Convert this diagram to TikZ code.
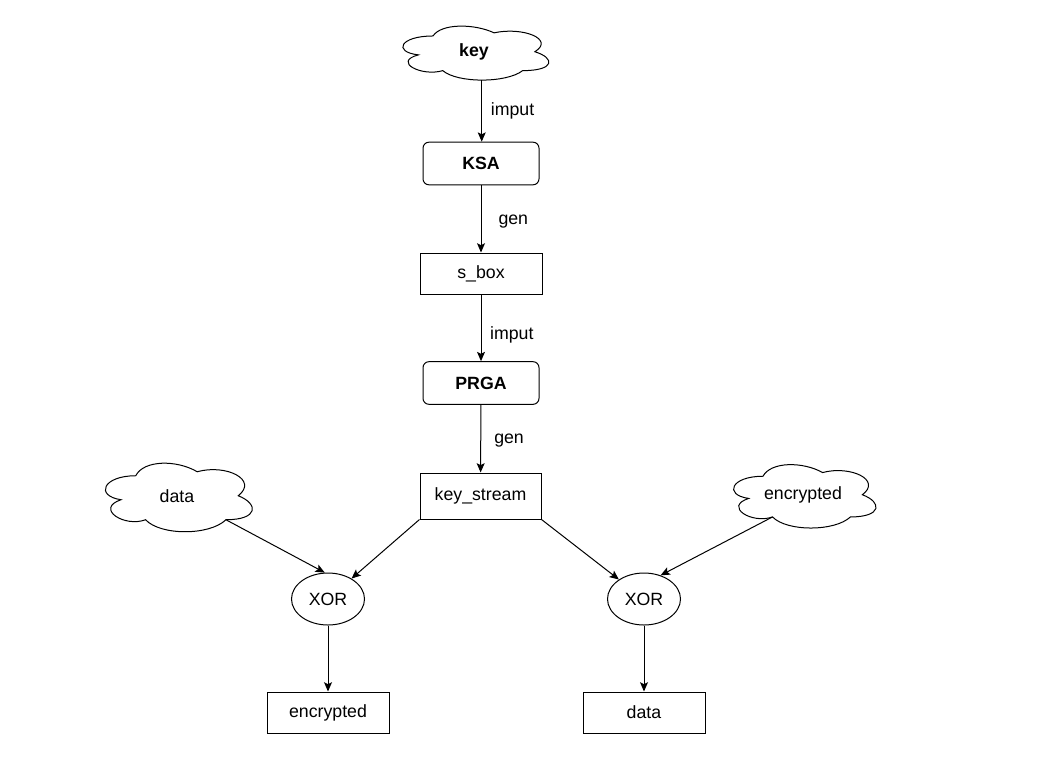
\documentclass[tikz,border=0pt]{standalone}
\usepackage{fontspec}
\setmainfont{Liberation Sans}
\usetikzlibrary{shapes.geometric,arrows.meta,calc}
\newcommand\drawiocloud[3]{%
  \begin{scope}[shift={(#1.north west)}, x=#2, y=-#3]
    \draw[line width=0.75pt] (0.25,0.25) .. controls (0.05,0.25) and (0,0.5) .. (0.16,0.55)
      .. controls (0,0.66) and (0.18,0.9) .. (0.31,0.8)
      .. controls (0.4,1) and (0.7,1) .. (0.8,0.8)
      .. controls (1,0.8) and (1,0.6) .. (0.875,0.5)
      .. controls (1,0.3) and (0.8,0.1) .. (0.625,0.2)
      .. controls (0.5,0.05) and (0.3,0.05) .. (0.25,0.25) -- cycle;
  \end{scope}}
\begin{document}
\begin{tikzpicture}[x=0.75pt,y=-0.75pt,
  every node/.style={font=\fontsize{13.3}{16}\selectfont},
  cloudnode/.style={draw=none, inner sep=0pt},
  rbox/.style={draw, line width=0.75pt, rounded corners=4.5pt, minimum width=87pt, minimum height=32pt, inner sep=0pt},
  sbox/.style={draw, line width=0.75pt, minimum width=91.5pt, minimum height=30.75pt, inner sep=0pt},
  xorbox/.style={ellipse, draw, line width=0.75pt, minimum width=54.75pt, minimum height=39pt, inner sep=0pt},
  arr/.style={-{Stealth[length=7pt,width=6pt,inset=1.5pt]}, line width=0.75pt},
  lbl/.style={inner sep=0pt}]
\useasboundingbox (0,0) rectangle (1039,768);
% clouds
\node[cloudnode, minimum width=122.25pt, minimum height=47.25pt] (key) at (474,52) {\textbf{key}};
\drawiocloud{key}{122.25pt}{47.25pt}
\path (key.north west) ++(0.549*163,0.95*63) coordinate (keyout);
\node[cloudnode, minimum width=123pt, minimum height=60pt] (data) at (177,496) {data};
\drawiocloud{data}{123pt}{60pt}
\path (data.north west) ++(0.8*164,0.8*80) coordinate (dataout);
\node[cloudnode, minimum width=119.25pt, minimum height=55.5pt] (enc) at (803,495) {encrypted};
\drawiocloud{enc}{119.25pt}{55.5pt}
\path (enc.north west) ++(0.31*159,0.8*74) coordinate (encout);
% boxes
\node[rbox] (ksa) at (481,163.5) {\textbf{KSA}};
\node[sbox] (sbox) at (481,273.5) {s\_box};
\node[rbox] (prga) at (481,383) {\textbf{PRGA}};
\node[sbox, minimum width=90.75pt, minimum height=34.5pt] (ks) at (480.5,496) {key\_stream};
\node[xorbox] (xl) at (328,599) {XOR};
\node[xorbox] (xr) at (644,599) {XOR};
\node[sbox] (encrect) at (328,712.5) {encrypted};
\node[sbox] (datarect) at (644,712.5) {data};
% connectors
\draw[arr] (keyout) -- (keyout |- ksa.north) node[lbl, midway, right=6.5pt, yshift=0pt] {imput};
\draw[arr] (ksa) -- (sbox) node[lbl, midway, right=12.75pt, yshift=-2pt] {gen};
\draw[arr] (sbox) -- (prga) node[lbl, midway, right=6.5pt, yshift=-5pt] {imput};
\draw[arr] (prga) -- (ks) node[lbl, midway, right=9.75pt, yshift=-1.5pt] {gen};
\draw[arr] (ks.south west) -- (xl);
\draw[arr] (ks.south east) -- (xr);
\draw[arr] (dataout) -- (xl.97);
\draw[arr] (encout) -- (xr.55);
\draw[arr] (xl) -- (encrect);
\draw[arr] (xr) -- (datarect);
\end{tikzpicture}
\end{document}
